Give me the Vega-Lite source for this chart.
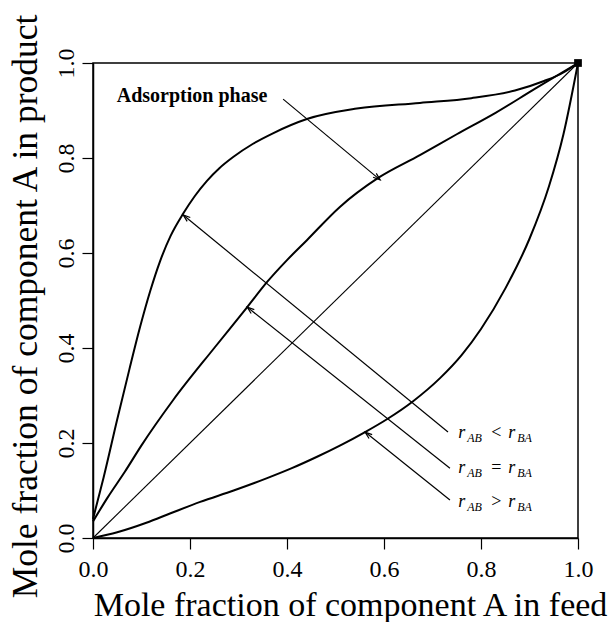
{
  "$schema": "https://vega.github.io/schema/vega-lite/v6.json",
  "width": 485,
  "height": 475,
  "autosize": {"type": "none"},
  "padding": {"left": 93, "top": 63, "right": 30, "bottom": 84},
  "background": "white",
  "config": {
    "view": {"stroke": "black", "strokeWidth": 1.5},
    "font": "Liberation Serif"
  },
  "datasets": {
    "curves": [
      {"series": "lt", "x": 0, "y": 0.04},
      {"series": "lt", "x": 0.01, "y": 0.08},
      {"series": "lt", "x": 0.022, "y": 0.128},
      {"series": "lt", "x": 0.05, "y": 0.25},
      {"series": "lt", "x": 0.075, "y": 0.355},
      {"series": "lt", "x": 0.097, "y": 0.444},
      {"series": "lt", "x": 0.118, "y": 0.52},
      {"series": "lt", "x": 0.138, "y": 0.582},
      {"series": "lt", "x": 0.16, "y": 0.636},
      {"series": "lt", "x": 0.186, "y": 0.683},
      {"series": "lt", "x": 0.21, "y": 0.72},
      {"series": "lt", "x": 0.235, "y": 0.752},
      {"series": "lt", "x": 0.26, "y": 0.778},
      {"series": "lt", "x": 0.289, "y": 0.802},
      {"series": "lt", "x": 0.33, "y": 0.83},
      {"series": "lt", "x": 0.371, "y": 0.852},
      {"series": "lt", "x": 0.441, "y": 0.882},
      {"series": "lt", "x": 0.544, "y": 0.904},
      {"series": "lt", "x": 0.674, "y": 0.916},
      {"series": "lt", "x": 0.78, "y": 0.926},
      {"series": "lt", "x": 0.87, "y": 0.942},
      {"series": "lt", "x": 0.93, "y": 0.962},
      {"series": "lt", "x": 0.97, "y": 0.98},
      {"series": "lt", "x": 1, "y": 1},
      {"series": "eq", "x": 0, "y": 0.035},
      {"series": "eq", "x": 0.03, "y": 0.085},
      {"series": "eq", "x": 0.066, "y": 0.14},
      {"series": "eq", "x": 0.1, "y": 0.195},
      {"series": "eq", "x": 0.165, "y": 0.29},
      {"series": "eq", "x": 0.25, "y": 0.4},
      {"series": "eq", "x": 0.318, "y": 0.486},
      {"series": "eq", "x": 0.359, "y": 0.539},
      {"series": "eq", "x": 0.4, "y": 0.585},
      {"series": "eq", "x": 0.441, "y": 0.627},
      {"series": "eq", "x": 0.509, "y": 0.697},
      {"series": "eq", "x": 0.588, "y": 0.758},
      {"series": "eq", "x": 0.674, "y": 0.806},
      {"series": "eq", "x": 0.75, "y": 0.85},
      {"series": "eq", "x": 0.83, "y": 0.895},
      {"series": "eq", "x": 0.91, "y": 0.945},
      {"series": "eq", "x": 1, "y": 1},
      {"series": "gt", "x": 0, "y": 0},
      {"series": "gt", "x": 0.05, "y": 0.012},
      {"series": "gt", "x": 0.11, "y": 0.032},
      {"series": "gt", "x": 0.16, "y": 0.052},
      {"series": "gt", "x": 0.221, "y": 0.076},
      {"series": "gt", "x": 0.29, "y": 0.1},
      {"series": "gt", "x": 0.359, "y": 0.126},
      {"series": "gt", "x": 0.41, "y": 0.147},
      {"series": "gt", "x": 0.462, "y": 0.171},
      {"series": "gt", "x": 0.51, "y": 0.195},
      {"series": "gt", "x": 0.561, "y": 0.223},
      {"series": "gt", "x": 0.606, "y": 0.25},
      {"series": "gt", "x": 0.66, "y": 0.288},
      {"series": "gt", "x": 0.715, "y": 0.336},
      {"series": "gt", "x": 0.76, "y": 0.385},
      {"series": "gt", "x": 0.8, "y": 0.44},
      {"series": "gt", "x": 0.85, "y": 0.525},
      {"series": "gt", "x": 0.9, "y": 0.63},
      {"series": "gt", "x": 0.94, "y": 0.74},
      {"series": "gt", "x": 0.97, "y": 0.85},
      {"series": "gt", "x": 1, "y": 1},
      {"series": "diag", "x": 0, "y": 0},
      {"series": "diag", "x": 1, "y": 1}
    ],
    "arrows": [
      {"kind": "label", "x": 0.732, "y": 0.223, "x2": 0.186, "y2": 0.68},
      {"kind": "label", "x": 0.736, "y": 0.147, "x2": 0.318, "y2": 0.486},
      {"kind": "label", "x": 0.736, "y": 0.08, "x2": 0.561, "y2": 0.223},
      {"kind": "ads", "x": 0.392, "y": 0.924, "x2": 0.592, "y2": 0.754}
    ],
    "labels": [
      {"x": 0.753, "y": 0.221, "rel": "<"},
      {"x": 0.753, "y": 0.147, "rel": "="},
      {"x": 0.753, "y": 0.076, "rel": ">"}
    ],
    "corner": [{"x": 1, "y": 1}],
    "note": [{"x": 0.049, "y": 0.93, "text": "Adsorption phase"}]
  },
  "layer": [
    {
      "data": {"name": "curves"},
      "transform": [{"filter": "datum.series !== 'diag'"}],
      "mark": {"type": "line", "color": "black", "strokeWidth": 2, "interpolate": "monotone"},
      "encoding": {
        "x": {
          "field": "x", "type": "quantitative",
          "scale": {"domain": [0, 1], "nice": false, "zero": false},
          "axis": {
            "title": "Mole fraction of component A in feed",
            "titleFont": "Liberation Serif", "titleFontSize": 34, "titleFontWeight": "normal",
            "titleColor": "black", "titleAlign": "center", "titleX": 257, "titleY": 77,
            "titleBaseline": "alphabetic",
            "values": [0, 0.2, 0.4, 0.6, 0.8, 1.0], "format": ".1f",
            "labelFont": "Liberation Serif", "labelFontSize": 24, "labelColor": "black",
            "labelFlush": false, "labelOverlap": false, "labelPadding": 8,
            "tickSize": 11, "tickColor": "black", "tickWidth": 1.2,
            "domainColor": "black", "domainWidth": 1.5, "grid": false
          }
        },
        "y": {
          "field": "y", "type": "quantitative",
          "scale": {"domain": [0, 1], "nice": false, "zero": false},
          "axis": {
            "title": "Mole fraction of component A in product",
            "titleFont": "Liberation Serif", "titleFontSize": 35.5, "titleFontWeight": "normal",
            "titleColor": "black", "titleAngle": 270, "titleAlign": "center",
            "titleX": -57, "titleY": 243, "titleBaseline": "alphabetic",
            "values": [0, 0.2, 0.4, 0.6, 0.8, 1.0], "format": ".1f",
            "labelFont": "Liberation Serif", "labelFontSize": 24, "labelColor": "black",
            "labelAngle": 270, "labelAlign": "center", "labelBaseline": "alphabetic",
            "labelFlush": false, "labelOverlap": false, "labelPadding": 9,
            "tickSize": 11, "tickColor": "black", "tickWidth": 1.2,
            "domainColor": "black", "domainWidth": 1.5, "grid": false
          }
        },
        "detail": {"field": "series"},
        "order": {"field": "x", "type": "quantitative"}
      }
    },
    {
      "data": {"name": "curves"},
      "transform": [{"filter": "datum.series === 'diag'"}],
      "mark": {"type": "line", "color": "black", "strokeWidth": 1.1},
      "encoding": {
        "x": {"field": "x", "type": "quantitative"},
        "y": {"field": "y", "type": "quantitative"}
      }
    },
    {
      "data": {"name": "arrows"},
      "mark": {"type": "rule", "color": "black", "strokeWidth": 1.2},
      "encoding": {
        "x": {"field": "x", "type": "quantitative"},
        "y": {"field": "y", "type": "quantitative"},
        "x2": {"field": "x2"},
        "y2": {"field": "y2"}
      }
    },
    {
      "data": {"name": "arrows"},
      "transform": [{"filter": "datum.kind === 'label'"}],
      "mark": {"type": "point", "shape": "M-0.35,1L0,0L0.35,1", "filled": false, "stroke": "black", "strokeWidth": 1.2, "size": 200, "angle": 309, "opacity": 1},
      "encoding": {
        "x": {"field": "x2", "type": "quantitative"},
        "y": {"field": "y2", "type": "quantitative"}
      }
    },
    {
      "data": {"name": "arrows"},
      "transform": [{"filter": "datum.kind === 'ads'"}],
      "mark": {"type": "point", "shape": "M-0.35,1L0,0L0.35,1", "filled": false, "stroke": "black", "strokeWidth": 1.2, "size": 200, "angle": 130, "opacity": 1},
      "encoding": {
        "x": {"field": "x2", "type": "quantitative"},
        "y": {"field": "y2", "type": "quantitative"}
      }
    },
    {
      "data": {"name": "corner"},
      "mark": {"type": "square", "color": "black", "size": 60, "opacity": 1},
      "encoding": {
        "x": {"field": "x", "type": "quantitative"},
        "y": {"field": "y", "type": "quantitative"}
      }
    },
    {
      "data": {"name": "note"},
      "mark": {"type": "text", "font": "Liberation Serif", "fontSize": 20, "fontWeight": "bold", "align": "left", "baseline": "middle", "color": "black"},
      "encoding": {
        "x": {"field": "x", "type": "quantitative"},
        "y": {"field": "y", "type": "quantitative"},
        "text": {"field": "text"}
      }
    },
    {
      "data": {"name": "labels"},
      "mark": {"type": "text", "font": "Liberation Serif", "fontSize": 18, "fontStyle": "italic", "align": "left", "baseline": "middle", "color": "black", "text": "r", "dx": 0},
      "encoding": {
        "x": {"field": "x", "type": "quantitative"},
        "y": {"field": "y", "type": "quantitative"}
      }
    },
    {
      "data": {"name": "labels"},
      "mark": {"type": "text", "font": "Liberation Serif", "fontSize": 12, "fontStyle": "italic", "align": "left", "baseline": "middle", "color": "black", "text": "AB", "dx": 9, "dy": 5},
      "encoding": {
        "x": {"field": "x", "type": "quantitative"},
        "y": {"field": "y", "type": "quantitative"}
      }
    },
    {
      "data": {"name": "labels"},
      "mark": {"type": "text", "font": "Liberation Serif", "fontSize": 18, "align": "left", "baseline": "middle", "color": "black", "dx": 33},
      "encoding": {
        "x": {"field": "x", "type": "quantitative"},
        "y": {"field": "y", "type": "quantitative"},
        "text": {"field": "rel"}
      }
    },
    {
      "data": {"name": "labels"},
      "mark": {"type": "text", "font": "Liberation Serif", "fontSize": 18, "fontStyle": "italic", "align": "left", "baseline": "middle", "color": "black", "text": "r", "dx": 50},
      "encoding": {
        "x": {"field": "x", "type": "quantitative"},
        "y": {"field": "y", "type": "quantitative"}
      }
    },
    {
      "data": {"name": "labels"},
      "mark": {"type": "text", "font": "Liberation Serif", "fontSize": 12, "fontStyle": "italic", "align": "left", "baseline": "middle", "color": "black", "text": "BA", "dx": 59, "dy": 5},
      "encoding": {
        "x": {"field": "x", "type": "quantitative"},
        "y": {"field": "y", "type": "quantitative"}
      }
    }
  ]
}
